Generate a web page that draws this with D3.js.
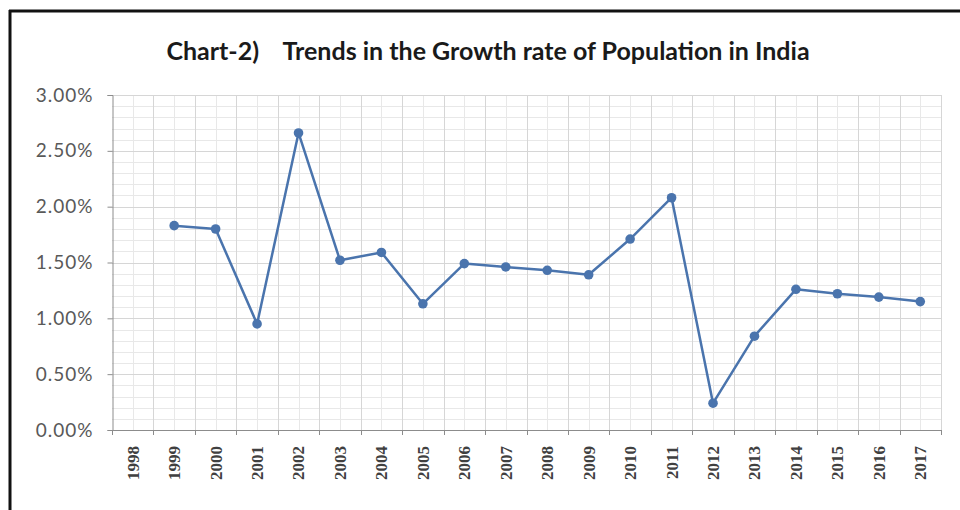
<!DOCTYPE html>
<html>
<head>
<meta charset="utf-8">
<script src="https://cdn.jsdelivr.net/npm/d3@7/dist/d3.min.js"></script>
<style>
  html, body { margin: 0; padding: 0; background: #fff; }
  svg { display: block; }
</style>
</head>
<body>
<svg id="chart" width="960" height="510"></svg>
<script>
// ---- data ----
const years = ["1998","1999","2000","2001","2002","2003","2004","2005","2006","2007",
               "2008","2009","2010","2011","2012","2013","2014","2015","2016","2017"];
const growthRate = [null, 1.83, 1.80, 0.95, 2.66, 1.52, 1.59, 1.13, 1.49, 1.46,
                    1.43, 1.39, 1.71, 2.08, 0.24, 0.84, 1.26, 1.22, 1.19, 1.15];
const yTicks = [0, 0.5, 1.0, 1.5, 2.0, 2.5, 3.0];
const titleText = "Chart-2)    Trends in the Growth rate of Population in India";

// ---- layout ----
const svg = d3.select("#chart");
const W = 960, H = 510;
const plot = { left: 112, right: 941, top: 95, bottom: 430 };

// frame
svg.append("rect").attr("x", 0).attr("y", 0).attr("width", W).attr("height", H).attr("fill", "#fff");
svg.append("line").attr("x1", 9).attr("x2", W).attr("y1", 11).attr("y2", 11)
  .attr("stroke", "#111").attr("stroke-width", 3);
svg.append("line").attr("x1", 10).attr("x2", 10).attr("y1", 10).attr("y2", H)
  .attr("stroke", "#111").attr("stroke-width", 3);

const x = d3.scaleBand().domain(years).range([plot.left, plot.right]).paddingInner(0).paddingOuter(0);
const y = d3.scaleLinear().domain([0, 3.0]).range([plot.bottom, plot.top]);
const bw = x.bandwidth();

// minor horizontal gridlines every 0.1%
const minorY = d3.range(1, 30).filter(i => i % 5 !== 0).map(i => i / 10);
svg.append("g").selectAll("line").data(minorY).join("line")
  .attr("x1", plot.left).attr("x2", plot.right)
  .attr("y1", d => Math.round(y(d)) + 0.5).attr("y2", d => Math.round(y(d)) + 0.5)
  .attr("stroke", "#e8e8e8").attr("stroke-width", 1);

// minor vertical gridlines at category centers
svg.append("g").selectAll("line").data(years).join("line")
  .attr("x1", d => Math.round(x(d) + bw / 2) + 0.5).attr("x2", d => Math.round(x(d) + bw / 2) + 0.5)
  .attr("y1", plot.top).attr("y2", plot.bottom)
  .attr("stroke", "#e8e8e8").attr("stroke-width", 1);

// major vertical gridlines at category boundaries
svg.append("g").selectAll("line").data(years.slice(1).concat(["__end"])).join("line")
  .attr("x1", d => Math.round(d === "__end" ? plot.right : x(d)) + 0.5)
  .attr("x2", d => Math.round(d === "__end" ? plot.right : x(d)) + 0.5)
  .attr("y1", plot.top).attr("y2", plot.bottom)
  .attr("stroke", "#d6d6d6").attr("stroke-width", 1);

// major horizontal gridlines
svg.append("g").selectAll("line").data(yTicks.slice(1)).join("line")
  .attr("x1", plot.left).attr("x2", plot.right)
  .attr("y1", d => Math.round(y(d)) + 0.5).attr("y2", d => Math.round(y(d)) + 0.5)
  .attr("stroke", "#d6d6d6").attr("stroke-width", 1);

// y axis
const yAxis = d3.axisLeft(y).tickValues(yTicks).tickSize(5).tickPadding(14)
  .tickFormat(d => d.toFixed(2) + "%");
const gy = svg.append("g").attr("transform", `translate(${plot.left + 0.5},0)`).call(yAxis);
gy.select(".domain").attr("stroke", "#8c8c8c");
gy.selectAll(".tick line").attr("stroke", "#8c8c8c");
gy.selectAll(".tick text").attr("fill", "#595959")
  .style("font-family", "Lato, 'Open Sans', sans-serif").style("font-size", "19px")
  .style("letter-spacing", "1px");

// x axis: ticks at boundaries
const boundaries = years.map(d => x(d)).concat([plot.right]);
svg.append("line").attr("x1", plot.left).attr("x2", plot.right)
  .attr("y1", plot.bottom + 0.5).attr("y2", plot.bottom + 0.5).attr("stroke", "#8c8c8c");
svg.append("g").selectAll("line").data(boundaries).join("line")
  .attr("x1", d => Math.round(d) + 0.5).attr("x2", d => Math.round(d) + 0.5)
  .attr("y1", plot.bottom).attr("y2", plot.bottom + 5).attr("stroke", "#8c8c8c");

svg.append("g").selectAll("text").data(years).join("text")
  .attr("transform", d => `translate(${x(d) + bw / 2},446) rotate(-90)`)
  .attr("text-anchor", "end").attr("dy", "0.35em")
  .attr("fill", "#404040")
  .style("font-family", "'Liberation Serif', serif").style("font-weight", "bold").style("font-size", "17px")
  .text(d => d);

// line
const pts = years.map((d, i) => ({ year: d, v: growthRate[i] })).filter(p => p.v !== null);
const line = d3.line().x(p => x(p.year) + bw / 2).y(p => y(p.v));
svg.append("path").datum(pts).attr("d", line)
  .attr("fill", "none").attr("stroke", "#4a74ad").attr("stroke-width", 2.5).attr("stroke-linejoin", "round");
svg.append("g").selectAll("circle").data(pts).join("circle")
  .attr("cx", p => x(p.year) + bw / 2).attr("cy", p => y(p.v)).attr("r", 4.8)
  .attr("fill", "#4a74ad");

// title
svg.append("text").attr("x", 488).attr("y", 60).attr("text-anchor", "middle")
  .attr("fill", "#1a1a1a")
  .style("font-family", "Lato, 'Open Sans', sans-serif").style("font-weight", "bold").style("font-size", "25px")
  .style("white-space", "pre").attr("xml:space", "preserve")
  .text(titleText);
</script>
</body>
</html>
